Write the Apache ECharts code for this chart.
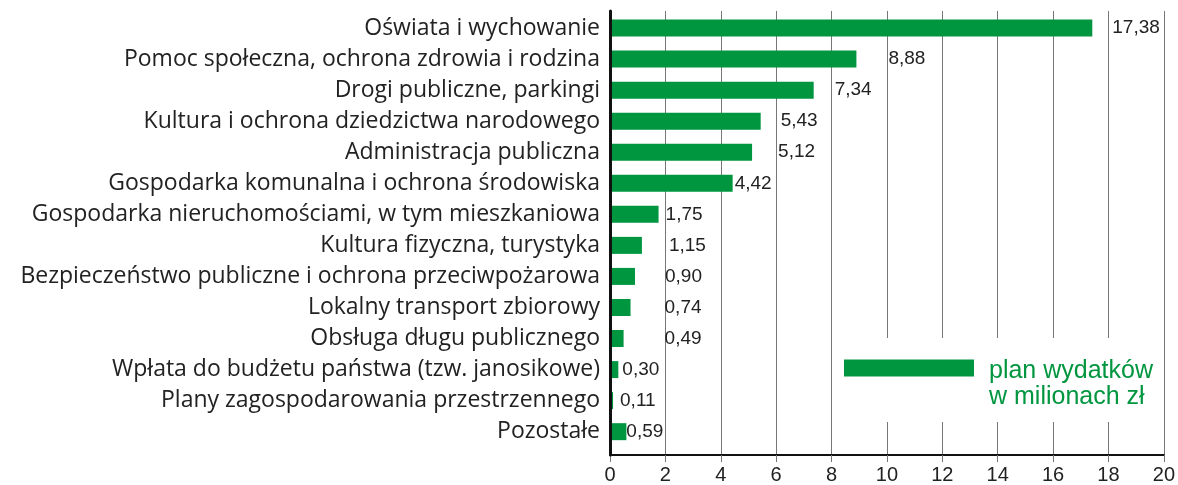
<!DOCTYPE html>
<html>
<head>
<meta charset="utf-8">
<script src="https://cdn.jsdelivr.net/npm/echarts@6/dist/echarts.min.js"></script>
<style>
  html, body { margin: 0; padding: 0; background: #fff; }
  #chart { width: 1178px; height: 485px; }
</style>
</head>
<body>
<div id="chart"></div>
<script>
// categories (top to bottom)
const categories = [
  'Oświata i wychowanie',
  'Pomoc społeczna, ochrona zdrowia i rodzina',
  'Drogi publiczne, parkingi',
  'Kultura i ochrona dziedzictwa narodowego',
  'Administracja publiczna',
  'Gospodarka komunalna i ochrona środowiska',
  'Gospodarka nieruchomościami, w tym mieszkaniowa',
  'Kultura fizyczna, turystyka',
  'Bezpieczeństwo publiczne i ochrona przeciwpożarowa',
  'Lokalny transport zbiorowy',
  'Obsługa długu publicznego',
  'Wpłata do budżetu państwa (tzw. janosikowe)',
  'Plany zagospodarowania przestrzennego',
  'Pozostałe'
];

// plan wydatków w mln zł
const values = [17.38, 8.88, 7.34, 5.43, 5.12, 4.42, 1.75, 1.15, 0.90, 0.74, 0.49, 0.30, 0.11, 0.59];

// x axis ticks
const xTicks = [0, 2, 4, 6, 8, 10, 12, 14, 16, 18, 20];

const seriesName = 'plan wydatków\nw milionach zł';

// layout / style (not data)
const GREEN = '#009640';
const numFont = "'Liberation Sans', Arial, sans-serif";
// label gap to the right of each bar, in px (the original places them by hand)
const labelGap = [20, 32, 21, 20, 26, 2, 7, 27, 30, 34, 41, 4, 7, 0];

// legend icon: bar in upper part of a taller box, so it lines up with the first text line
const legendIcon = 'path://M0,0H130V17H0Z M140,49L140.01,49L140,49Z';

const xMin = xTicks[0];
const xMax = xTicks[xTicks.length - 1];
const xStep = xTicks[1] - xTicks[0];

const fmt = (v) => v.toFixed(2).replace('.', ',');

const createOption = () => {
  return {
    animation: false,
    backgroundColor: '#fff',
    grid: [
      // frame: gridlines + axes
      { left: 610, right: 13, top: 11, bottom: 29 },
      // data rows
      { left: 610, right: 13, top: 12.5, height: 434.7 }
    ],
    legend: {
      data: [seriesName],
      left: 833,
      top: 338,
      padding: [20, 9, 12, 11],
      backgroundColor: '#fff',
      itemWidth: 140,
      itemHeight: 49,
      icon: legendIcon,
      selectedMode: false,
      textStyle: {
        color: GREEN,
        fontFamily: numFont,
        fontSize: 25,
        lineHeight: 26
      }
    },
    xAxis: [
      {
        gridIndex: 0,
        type: 'value',
        min: xMin,
        max: xMax,
        interval: xStep,
        axisLine: { show: true, lineStyle: { color: '#111', width: 2 } },
        axisTick: { show: true, length: 7, lineStyle: { color: '#777' } },
        axisLabel: {
          color: '#222',
          fontFamily: numFont,
          fontSize: 20,
          margin: 10
        },
        splitLine: { show: true, lineStyle: { color: '#777', width: 1 } }
      },
      {
        gridIndex: 1,
        type: 'value',
        min: xMin,
        max: xMax,
        show: false
      }
    ],
    yAxis: [
      {
        gridIndex: 0,
        type: 'value',
        min: 0,
        max: 1,
        z: 5,
        axisLine: { show: true, lineStyle: { color: '#111', width: 3 } },
        axisTick: { show: false },
        axisLabel: { show: false },
        splitLine: { show: false }
      },
      {
        gridIndex: 1,
        type: 'category',
        inverse: true,
        data: categories,
        axisLine: { show: false },
        axisTick: { show: false },
        axisLabel: {
          color: '#222',
          fontFamily: "'Open Sans', sans-serif",
          fontSize: 23,
          margin: 10
        }
      }
    ],
    series: [
      {
        name: seriesName,
        type: 'bar',
        xAxisIndex: 1,
        yAxisIndex: 1,
        barWidth: 17,
        itemStyle: { color: GREEN },
        label: {
          show: true,
          position: 'right',
          color: '#222',
          fontFamily: numFont,
          fontSize: 19,
          formatter: (p) => fmt(p.value)
        },
        data: values.map((value, i) => ({
          value,
          label: { distance: labelGap[i] }
        }))
      }
    ]
  };
};

const chart = echarts.init(document.getElementById('chart'));
chart.setOption(createOption());
</script>
</body>
</html>
